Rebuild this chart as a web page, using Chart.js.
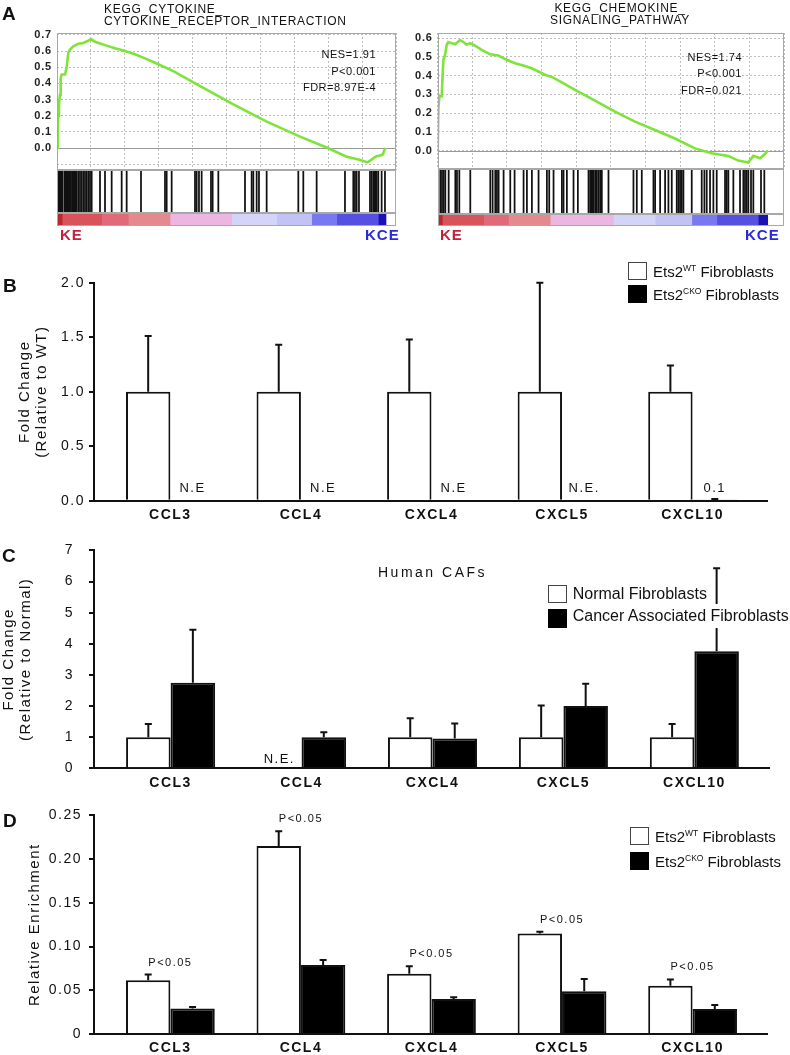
<!DOCTYPE html>
<html lang="en">
<head>
<meta charset="utf-8">
<title>Ets2 fibroblast chemokines</title>
<script src="https://cdn.jsdelivr.net/npm/chart.js@4.4.1/dist/chart.umd.min.js"></script>
<style>
  body { margin: 0; background: #fff; }
  #fig { position: relative; width: 790px; height: 1055px; overflow: hidden; font-family: 'Liberation Sans', Arial, sans-serif; color: #111; }
  #fig canvas { position: absolute; }
  .txt { position: absolute; white-space: nowrap; line-height: 1; z-index: 2; }
  .panel { font-size: 19px; font-weight: bold; }
  .gsea-title { font-size: 12px; line-height: 12px; letter-spacing: 0.7px; }
  .stats { font-size: 11px; line-height: 16.5px; letter-spacing: 0.5px; text-align: right; }
  .ke { font-size: 15px; font-weight: bold; letter-spacing: 1px; color: #c81e3c; }
  .kce { font-size: 15px; font-weight: bold; letter-spacing: 1px; color: #2a2ad8; }
  .box { position: absolute; box-sizing: border-box; width: 19px; height: 18px; border: 1.5px solid #444; background: #fff; z-index: 2; }
  .box.black { background: #000; border-color: #000; }
  .leg { font-size: 15px; }
  .leg sup { font-size: 8.5px; vertical-align: top; line-height: 1; }
  .leg16 { font-size: 16px; background: #fff; }
</style>
</head>
<body>
<div id="fig">
  <!-- panel letters -->
  <div class="txt panel" style="left:2px;top:4px">A</div>
  <div class="txt panel" style="left:3px;top:276px">B</div>
  <div class="txt panel" style="left:2px;top:546px">C</div>
  <div class="txt panel" style="left:3px;top:811px">D</div>

  <!-- A: titles, stats, KE / KCE -->
  <div class="txt gsea-title" style="left:104px;top:3px">KEGG_CYTOKINE_<br>CYTOKINE_RECEPTOR_INTERACTION</div>
  <div class="txt gsea-title" style="left:520px;top:1.5px;width:200px;text-align:center">KEGG_CHEMOKINE_<br>SIGNALING_PATHWAY</div>
  <div class="txt stats" style="right:414px;top:46px">NES=1.91<br>P&lt;0.001<br>FDR=8.97E-4</div>
  <div class="txt stats" style="right:48px;top:48.5px">NES=1.74<br>P&lt;0.001<br>FDR=0.021</div>
  <div class="txt ke" style="left:60px;top:227px">KE</div>
  <div class="txt kce" style="left:365px;top:227px">KCE</div>
  <div class="txt ke" style="left:440px;top:227px">KE</div>
  <div class="txt kce" style="left:745px;top:227px">KCE</div>

  <!-- B legend -->
  <div class="box" style="left:628px;top:262px"></div>
  <div class="box black" style="left:628px;top:285px"></div>
  <div class="txt leg" style="left:653px;top:263.7px">Ets2<sup>WT</sup> Fibroblasts</div>
  <div class="txt leg" style="left:653px;top:286.7px">Ets2<sup>CKO</sup> Fibroblasts</div>

  <!-- C title + legend -->
  <div class="txt" style="left:378px;top:565px;font-size:14px;letter-spacing:2.5px">Human CAFs</div>
  <div class="box" style="left:548px;top:585px"></div>
  <div class="box black" style="left:548px;top:608.5px;height:19px"></div>
  <div class="txt leg16" style="left:572.7px;top:586.2px">Normal Fibroblasts</div>
  <div class="txt leg16" style="left:572.7px;top:604px;line-height:24px">Cancer Associated Fibroblasts</div>

  <!-- D legend -->
  <div class="box" style="left:630px;top:827px"></div>
  <div class="box black" style="left:630px;top:852px"></div>
  <div class="txt leg" style="left:655px;top:829.4px">Ets2<sup>WT</sup> Fibroblasts</div>
  <div class="txt leg" style="left:655px;top:854.4px">Ets2<sup>CKO</sup> Fibroblasts</div>
</div>

<script>
// ---------- Panel A: GSEA running enrichment scores ----------
const esLeftRank = [0, 39, 78, 116, 175, 213, 272, 466, 563, 660, 757, 951, 1242, 1533, 1824, 1979, 2212, 2794, 3376, 3958, 4540, 5122, 5704, 6771, 8305, 10241, 12177, 14113, 15759, 16824, 17598, 18082, 18566, 18953, 19108];
const esLeftScore = [0, 0.145, 0.2, 0.27, 0.33, 0.435, 0.455, 0.455, 0.5, 0.59, 0.61, 0.63, 0.645, 0.65, 0.665, 0.673, 0.658, 0.637, 0.617, 0.6, 0.58, 0.555, 0.528, 0.476, 0.385, 0.272, 0.165, 0.072, 0.0, -0.052, -0.072, -0.089, -0.052, -0.041, 0.0];
const hitsLeft = [39, 78, 116, 155, 194, 233, 272, 310, 427, 466, 504, 543, 582, 621, 660, 698, 757, 815, 892, 951, 1009, 1086, 1145, 1242, 1339, 1436, 1533, 1630, 1727, 1824, 1921, 2018, 2503, 2794, 3182, 3764, 4055, 4889, 6286, 6383, 6674, 8032, 8129, 8264, 8420, 8963, 9060, 9390, 10942, 11330, 11427, 11621, 11756, 12203, 14046, 14337, 15113, 16762, 17247, 17344, 17441, 17576, 18217, 18314, 18411, 18469, 18546, 18605, 18702, 18896, 19090];

const esRightRank = [0, 39, 97, 232, 271, 329, 425, 522, 619, 812, 1006, 1199, 1296, 1489, 1683, 1876, 2166, 2553, 3036, 3520, 4003, 4487, 4970, 5454, 6227, 6711, 7968, 9128, 10289, 11449, 12610, 13770, 14930, 15897, 16864, 17444, 18025, 18315, 18702, 18992, 19150];
const esRightScore = [0, 0.227, 0.29, 0.29, 0.37, 0.485, 0.51, 0.565, 0.58, 0.574, 0.568, 0.582, 0.59, 0.58, 0.565, 0.574, 0.561, 0.538, 0.515, 0.508, 0.485, 0.467, 0.455, 0.44, 0.405, 0.39, 0.325, 0.267, 0.208, 0.155, 0.11, 0.065, 0.012, -0.014, -0.028, -0.053, -0.064, -0.028, -0.041, -0.018, 0];
const hitsRight = [135, 232, 329, 425, 619, 1006, 1102, 1238, 1876, 3036, 3172, 3326, 3423, 3520, 3810, 4197, 4448, 4970, 5164, 5454, 5840, 6324, 6460, 6711, 7194, 7291, 7485, 7871, 8123, 8742, 8838, 8896, 8974, 9032, 9128, 9225, 9322, 9419, 9515, 9902, 11352, 11546, 11836, 12513, 12610, 12900, 13190, 13383, 13577, 13867, 13963, 14060, 14157, 14254, 14737, 15317, 15472, 15607, 15800, 15994, 16188, 16671, 16768, 16865, 17155, 17541, 17735, 17831, 17928, 18025, 18180, 18315, 18760, 18953];

// ranked-list heat strip (rank boundaries of each colour block)
const heatLeftEdges = [0, 300, 2600, 4150, 6580, 10170, 12790, 14820, 16280, 18700, 19150];
const heatRightEdges = [0, 250, 2650, 4100, 6520, 10190, 12610, 14740, 16190, 18600, 19150];
const heatColors = ['#b8282e', '#d9535a', '#e06a7a', '#e48a8e', '#ecb6e0', '#d4d4f8', '#c2c2f4', '#7878f0', '#5650e2', '#1c12b4'];

const esTickValues = [-0.1, 0.0, 0.1, 0.2, 0.3, 0.4, 0.5, 0.6, 0.7];
const esTickLabels = ['', '0.0', '0.1', '0.2', '0.3', '0.4', '0.5', '0.6', '0.7'];

// ---------- Panels B-D: qPCR / ChIP bars ----------
const genes = ['CCL3', 'CCL4', 'CXCL4', 'CXCL5', 'CXCL10'];

const bWT = [1, 1, 1, 1, 1];
const bWTErr = [0.51, 0.43, 0.48, 1.0, 0.24];
const bCKO = [null, null, null, null, 0.01];
const bCKOErr = [null, null, null, null, 0.005];
const bCKONotes = ['N.E', 'N.E', 'N.E', 'N.E.', '0.1'];
const bTickValues = [0, 0.5, 1, 1.5, 2];
const bTickLabels = ['0.0', '0.5', '1.0', '1.5', '2.0'];

const cNormal = [1, null, 1, 1, 1];
const cNormalErr = [0.42, null, 0.61, 1.02, 0.42];
const cNormalNotes = ['', 'N.E.', '', '', ''];
const cCAF = [2.75, 1.0, 0.96, 2.0, 3.76];
const cCAFErr = [1.70, 0.16, 0.48, 0.72, 2.67];
const cTickValues = [0, 1, 2, 3, 4, 5, 6, 7];
const cTickLabels = ['0', '1', '2', '3', '4', '5', '6', '7'];

const dWT = [0.0616, 0.215, 0.069, 0.115, 0.0552];
const dWTErr = [0.0064, 0.017, 0.0086, 0.0018, 0.0072];
const dCKO = [0.0293, 0.0788, 0.040, 0.049, 0.0285];
const dCKOErr = [0.0017, 0.0057, 0.0019, 0.0138, 0.0046];
const dPvals = ['P<0.05', 'P<0.05', 'P<0.05', 'P<0.05', 'P<0.05'];
const dTickValues = [0, 0.05, 0.10, 0.15, 0.20, 0.25];
const dTickLabels = ['0', '0.05', '0.10', '0.15', '0.20', '0.25'];

Chart.defaults.font.family = "'Liberation Sans', Arial, sans-serif";
Chart.defaults.color = '#111';

const fig = document.getElementById('fig');
function makeCanvas(left, top, w, h) {
    const c = document.createElement('canvas');
    c.width = w; c.height = h;
    c.style.left = left + 'px'; c.style.top = top + 'px';
    c.style.width = w + 'px'; c.style.height = h + 'px';
    fig.appendChild(c);
    return c;
}

// --- small plugins ---
const spacing = {
    id: 'spacing',
    defaults: { px: '0px' },
    beforeUpdate(chart, args, opts) { chart.ctx.letterSpacing = opts.px; },
    beforeDraw(chart, args, opts) { chart.ctx.letterSpacing = opts.px; }
};

const frame = {
    id: 'frame',
    afterDraw(chart) {
        const { ctx, chartArea: a } = chart;
        ctx.save();
        ctx.strokeStyle = '#a8a8a8';
        ctx.lineWidth = 1;
        ctx.strokeRect(Math.round(a.left) + 0.5, Math.round(a.top) + 0.5, Math.round(a.right - a.left) - 1, Math.round(a.bottom - a.top) - 1);
        ctx.restore();
    }
};

const zeroLine = {
    id: 'zeroLine',
    beforeDatasetsDraw(chart) {
        const { ctx, chartArea: a } = chart;
        const y = Math.round(chart.scales.y.getPixelForValue(0)) + 0.5;
        ctx.save();
        ctx.strokeStyle = '#9a9a9a';
        ctx.lineWidth = 1;
        ctx.beginPath(); ctx.moveTo(a.left, y); ctx.lineTo(a.right, y); ctx.stroke();
        ctx.restore();
    }
};

// upper error bars (whisker + cap)
const errorBars = {
    id: 'errorBars',
    afterDatasetsDraw(chart) {
        const ctx = chart.ctx, ys = chart.scales.y;
        chart.data.datasets.forEach((ds, di) => {
            const meta = chart.getDatasetMeta(di);
            ds.errors.forEach((e, i) => {
                const v = ds.data[i].y;
                if (v == null || e == null) return;
                const el = meta.data[i];
                const yTop = ys.getPixelForValue(v + e);
                ctx.save();
                ctx.strokeStyle = '#111';
                ctx.lineWidth = 2;
                ctx.beginPath();
                ctx.moveTo(el.x, el.y); ctx.lineTo(el.x, yTop);
                ctx.moveTo(el.x - 3.5, yTop); ctx.lineTo(el.x + 3.5, yTop);
                ctx.stroke();
                ctx.restore();
            });
        });
    }
};

// "N.E" style notes sitting on the baseline
const barNotes = {
    id: 'barNotes',
    defaults: { offset: 11 },
    afterDatasetsDraw(chart, args, opts) {
        const ctx = chart.ctx, base = chart.scales.x.top;
        chart.data.datasets.forEach((ds, di) => {
            if (!ds.notes) return;
            const meta = chart.getDatasetMeta(di);
            ds.notes.forEach((t, i) => {
                if (!t) return;
                ctx.save();
                ctx.font = "13px 'Liberation Sans', Arial, sans-serif";
                ctx.fillStyle = '#111';
                ctx.textAlign = 'center';
                ctx.textBaseline = 'middle';
                ctx.fillText(t, meta.data[i].x, base - opts.offset);
                ctx.restore();
            });
        });
    }
};

// significance labels above each gene pair
const pairNotes = {
    id: 'pairNotes',
    defaults: { labels: null },
    afterDatasetsDraw(chart, args, opts) {
        if (!opts.labels) return;
        const ctx = chart.ctx, xs = chart.scales.x, ys = chart.scales.y;
        opts.labels.forEach((t, i) => {
            let top = Infinity;
            chart.data.datasets.forEach(ds => {
                const v = ds.data[i].y;
                if (v != null) top = Math.min(top, ys.getPixelForValue(v + (ds.errors[i] || 0)));
            });
            ctx.save();
            ctx.font = "11px 'Liberation Sans', Arial, sans-serif";
            ctx.fillStyle = '#111';
            ctx.textAlign = 'center';
            ctx.textBaseline = 'middle';
            ctx.fillText(t, xs.getPixelForValue(i + 1), top - 12);
            ctx.restore();
        });
    }
};

// --- Panel A pieces ---
// canvas starts 12px above the plot box: the y axis reserves half a label + padding there
function drawEnrichment(o) {
    const cv = makeCanvas(o.left, 21, o.width, o.height);
    new Chart(cv, {
        type: 'line',
        data: {
            datasets: [{
                data: o.rank.map((r, i) => ({ x: r, y: o.score[i] })),
                borderColor: '#7ee33a',
                borderWidth: 2.6,
                pointRadius: 0,
                tension: 0,
                fill: false
            }]
        },
        options: {
            responsive: false,
            animation: false,
            events: [],
            layout: { padding: { top: 12, right: o.padRight, bottom: 12, left: 0 } },
            plugins: { legend: { display: false }, tooltip: { enabled: false }, spacing: { px: '0.8px' } },
            scales: {
                x: {
                    type: 'linear', min: 0, max: o.xMax,
                    ticks: { display: false, stepSize: 2000, includeBounds: false },
                    grid: { color: '#bdbdbd', drawTicks: false },
                    border: { display: false, dash: [2, 2] },
                    afterFit: s => { s.height = 0; }
                },
                y: {
                    min: o.yMin, max: o.yMax,
                    afterBuildTicks: s => { s.ticks = esTickValues.filter(v => v >= s.min && v <= s.max).map(v => ({ value: v })); },
                    ticks: { autoSkip: false, padding: 5, color: '#222', font: { size: 11, weight: 'bold' }, callback: v => esTickLabels[esTickValues.indexOf(v)] },
                    grid: { color: '#bdbdbd', drawTicks: false },
                    border: { display: false, dash: [2, 2] },
                    afterFit: s => { s.width = o.axisWidth; }
                }
            }
        },
        plugins: [spacing, zeroLine, frame]
    });
}

// leading-edge hits: one thin bar per gene rank
function drawHits(left, top, w, h, hits, xMax) {
    const cv = makeCanvas(left, top, w, h);
    new Chart(cv, {
        type: 'bar',
        data: {
            datasets: [{
                data: hits.map(r => ({ x: r, y: 1 })),
                backgroundColor: '#111',
                borderWidth: 0,
                barThickness: 1.1
            }]
        },
        options: {
            responsive: false, animation: false, events: [],
            layout: { padding: 0 },
            plugins: { legend: { display: false }, tooltip: { enabled: false } },
            scales: {
                x: { type: 'linear', display: false, min: 0, max: xMax, offset: false },
                y: { display: false, min: 0, max: 1 }
            }
        },
        plugins: [frame]
    });
}

function drawHeat(left, top, w, h, edges, xMax) {
    const cv = makeCanvas(left, top, w, h);
    new Chart(cv, {
        type: 'bar',
        data: {
            labels: ['rank'],
            datasets: heatColors.map((col, i) => ({
                data: [[edges[i], edges[i + 1]]],
                backgroundColor: col,
                borderWidth: 0,
                barPercentage: 1,
                categoryPercentage: 1,
                grouped: false
            }))
        },
        options: {
            indexAxis: 'y',
            responsive: false, animation: false, events: [],
            layout: { padding: 0 },
            plugins: { legend: { display: false }, tooltip: { enabled: false } },
            scales: { x: { display: false, min: 0, max: xMax }, y: { display: false } }
        },
        plugins: [frame]
    });
}

drawEnrichment({ left: 0, width: 400, height: 161, padRight: 4, axisWidth: 57, rank: esLeftRank, score: esLeftScore, yMin: -0.136, yMax: 0.712, xMax: 19732 });
drawHits(57, 170, 339, 43, hitsLeft, 19732);
drawHeat(57, 213, 339, 13, heatLeftEdges, 19732);

drawEnrichment({ left: 400, width: 390, height: 160, padRight: 6, axisWidth: 37.7, rank: esRightRank, score: esRightScore, yMin: -0.098, yMax: 0.628, xMax: 20096 });
drawHits(437.7, 169, 346, 45, hitsRight, 20096);
drawHeat(437.7, 214, 346, 12, heatRightEdges, 20096);

// --- Panels B-D ---
function barSet(vals, errs, fill, notes) {
    return {
        data: vals.map((v, i) => ({ x: i + 1, y: v })),
        errors: errs,
        notes: notes || null,
        backgroundColor: fill,
        borderColor: '#111',
        borderWidth: 2,
        borderSkipped: 'start',
        categoryPercentage: 0.68,
        barPercentage: 1
    };
}

function drawBars(o) {
    const cv = makeCanvas(0, o.top, 790, o.height);
    new Chart(cv, {
        type: 'bar',
        data: { datasets: o.datasets },
        options: {
            responsive: false, animation: false, events: [],
            layout: { padding: { top: o.padTop, right: 790 - o.right, left: 0, bottom: 0 } },
            plugins: {
                legend: { display: false }, tooltip: { enabled: false },
                spacing: { px: '1.5px' },
                barNotes: { offset: o.noteOffset || 11 },
                pairNotes: { labels: o.pairLabels || null }
            },
            scales: {
                x: {
                    type: 'linear', min: 0.415, max: 5.57, offset: false,
                    afterBuildTicks: s => { s.ticks = genes.map((g, i) => ({ value: i + 1 })); },
                    ticks: { autoSkip: false, maxRotation: 0, padding: 6, font: { size: 14, weight: 'bold' }, callback: v => genes[v - 1] },
                    grid: { display: false, drawTicks: false, offset: false },
                    border: { display: true, color: '#111', width: 2 },
                    afterFit: s => { s.height = o.xHeight; }
                },
                y: {
                    min: 0, max: o.yMax,
                    afterBuildTicks: s => { s.ticks = o.tickValues.map(v => ({ value: v })); },
                    ticks: { autoSkip: false, padding: o.tickPad, font: { size: 14 }, callback: v => o.tickLabels[o.tickValues.indexOf(v)] },
                    grid: { drawOnChartArea: false, drawTicks: true, tickLength: 5, color: '#111', lineWidth: 2 },
                    border: { display: true, color: '#111', width: 2 },
                    title: { display: true, text: o.yTitle, color: '#111', font: { size: 15, lineHeight: 1.1 }, padding: { top: o.titlePad, bottom: 0 } },
                    afterFit: s => { s.width = 94; }
                }
            }
        },
        plugins: [spacing, errorBars, barNotes, pairNotes]
    });
}

drawBars({
    top: 270, height: 259, padTop: 12.7, xHeight: 28.3, right: 767,
    yMax: 2, tickValues: bTickValues, tickLabels: bTickLabels, tickPad: 4,
    yTitle: ['Fold Change', '(Relative to WT)'], titlePad: 16.75, noteOffset: 12,
    datasets: [barSet(bWT, bWTErr, '#fff'), barSet(bCKO, bCKOErr, '#000', bCKONotes)]
});

drawBars({
    top: 527, height: 269, padTop: 23, xHeight: 27.7, right: 769,
    yMax: 7, tickValues: cTickValues, tickLabels: cTickLabels, tickPad: 15,
    yTitle: ['Fold Change', '(Relative to Normal)'], titlePad: 1, noteOffset: 8.5,
    datasets: [barSet(cNormal, cNormalErr, '#fff', cNormalNotes), barSet(cCAF, cCAFErr, '#000')]
});

drawBars({
    top: 800, height: 255, padTop: 15, xHeight: 21, right: 767,
    yMax: 0.25, tickValues: dTickValues, tickLabels: dTickLabels, tickPad: 7,
    yTitle: 'Relative Enrichment', titlePad: 26.75,
    pairLabels: dPvals,
    datasets: [barSet(dWT, dWTErr, '#fff'), barSet(dCKO, dCKOErr, '#000')]
});
</script>
</body>
</html>
